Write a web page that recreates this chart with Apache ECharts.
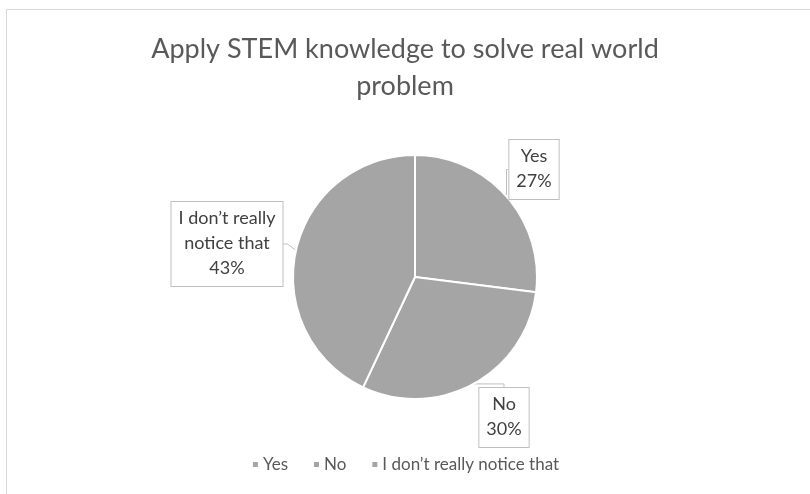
<!DOCTYPE html>
<html>
<head>
<meta charset="utf-8">
<script src="https://cdn.jsdelivr.net/npm/echarts@6/dist/echarts.min.js"></script>
<style>
  html, body { margin: 0; padding: 0; background: #ffffff; }
  #chart { width: 810px; height: 494px; }
</style>
</head>
<body>
<div id="chart"></div>
<script>
// Survey answers and their shares (percent)
const categories = ['Yes', 'No', 'I don\u2019t really notice that'];
const shares = [27, 30, 43];
// Wrapped text used inside the data label boxes
const labelNames = ['Yes', 'No', 'I don\u2019t really\nnotice that'];
const titleText = 'Apply STEM knowledge to solve real world\nproblem';

const FONT = 'Lato, "Open Sans", sans-serif';
const SLICE = '#a5a5a5';

// Where each label box sits (top centre of the box), keyed by slice index
const labelSpots = [
  { x: 534, y: 140 },
  { x: 504, y: 388 },
  { x: 227, y: 202 }
];

const chart = echarts.init(document.getElementById('chart'), null, { renderer: 'canvas' });

chart.setOption({
  backgroundColor: '#ffffff',
  animation: false,
  title: {
    text: titleText,
    left: 'center',
    top: 26,
    textStyle: {
      fontFamily: FONT,
      fontSize: 27,
      fontWeight: 'normal',
      color: '#595959',
      lineHeight: 37
    }
  },
  legend: {
    bottom: 16,
    left: 'center',
    itemWidth: 7,
    itemHeight: 7,
    itemGap: 24,
    icon: 'rect',
    data: categories,
    textStyle: { fontFamily: FONT, fontSize: 17, color: '#595959', padding: [0, 0, 0, -1] }
  },
  graphic: [{
    type: 'rect',
    shape: { x: 6.5, y: 9.5, width: 900, height: 600 },
    style: { fill: 'none', stroke: '#d9d9d9', lineWidth: 1 },
    silent: true
  }],
  series: [{
    type: 'pie',
    center: [415, 277],
    radius: 122,
    startAngle: 90,
    clockwise: true,
    itemStyle: { color: SLICE, borderColor: '#ffffff', borderWidth: 2 },
    data: categories.map((c, i) => ({ name: c, value: shares[i] })),
    label: {
      show: true,
      position: 'outside',
      formatter: p => labelNames[p.dataIndex] + '\n' + p.value + '%',
      fontFamily: FONT,
      fontSize: 18,
      lineHeight: 25,
      color: '#404040',
      align: 'center',
      backgroundColor: '#ffffff',
      borderColor: '#bfbfbf',
      borderWidth: 1,
      padding: [4, 7, 5, 7]
    },
    labelLine: {
      show: true,
      length: 6,
      length2: 4,
      lineStyle: { color: '#bfbfbf', width: 1 }
    },
    labelLayout: function (params) {
      const s = labelSpots[params.dataIndex];
      return { x: s.x, y: s.y, align: 'center', verticalAlign: 'top' };
    },
    emphasis: { disabled: true }
  }]
});
</script>
</body>
</html>
